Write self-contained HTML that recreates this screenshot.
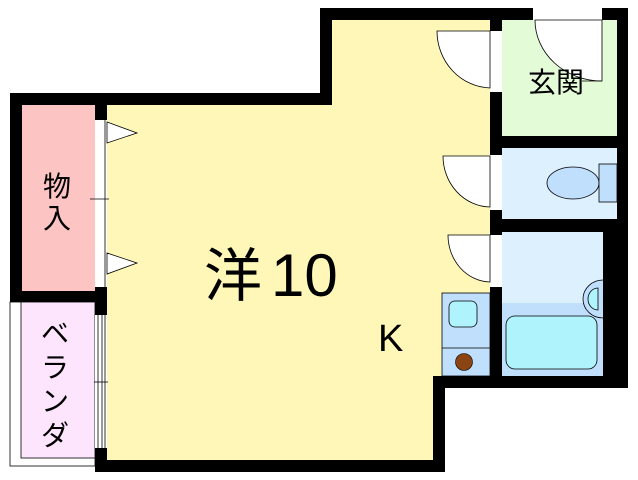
<!DOCTYPE html>
<html><head><meta charset="utf-8"><style>
html,body{margin:0;padding:0;background:#fff;width:638px;height:480px;overflow:hidden}
svg{display:block}
text{font-family:"Liberation Sans","Noto Sans CJK JP",sans-serif;fill:#000}
</style></head><body>
<svg width="638" height="480" viewBox="0 0 638 480" xmlns="http://www.w3.org/2000/svg">
<!-- black structure -->
<rect x="320" y="8" width="308" height="12" fill="#000"/>
<rect x="320" y="8" width="12" height="97" fill="#000"/>
<rect x="10" y="93" width="322" height="12" fill="#000"/>
<rect x="10" y="93" width="12" height="209" fill="#000"/>
<rect x="10" y="291" width="97" height="11" fill="#000"/>
<rect x="95" y="93" width="12" height="379" fill="#000"/>
<rect x="95" y="460" width="350" height="12" fill="#000"/>
<rect x="433" y="376" width="12" height="96" fill="#000"/>
<rect x="433" y="376" width="195" height="12" fill="#000"/>
<rect x="490" y="8" width="138" height="380" fill="#000"/>
<!-- main room -->
<polygon points="332,20 490,20 490,293 442,293 442,376 433,376 433,460 107,460 107,105 332,105" fill="#fef7b8"/>
<!-- genkan -->
<rect x="502" y="20" width="115" height="116" fill="#e3fbd6"/>
<!-- toilet -->
<rect x="502" y="148" width="115" height="71" fill="#dcf0fe"/>
<!-- bath -->
<rect x="502" y="232" width="101" height="71" fill="#dcf0fe"/>
<rect x="502" y="303" width="101" height="73" fill="#bfdffc"/>
<!-- closet -->
<rect x="22" y="105" width="73" height="186" fill="#fdc4c4"/>
<!-- veranda -->
<rect x="10" y="302" width="85" height="164" fill="#fff" stroke="#000" stroke-width="0.8"/>
<rect x="21" y="302" width="74" height="156" fill="#fde6fd" stroke="#000" stroke-width="0.8"/>
<rect x="95" y="315" width="12" height="133" fill="#fff"/>
<line x1="98" y1="315" x2="98" y2="448" stroke="#000" stroke-width="0.8"/>
<line x1="102" y1="315" x2="102" y2="448" stroke="#000" stroke-width="0.8"/>
<line x1="105" y1="315" x2="105" y2="448" stroke="#000" stroke-width="0.8"/>
<line x1="94" y1="382" x2="108" y2="382" stroke="#000" stroke-width="0.8"/>
<!-- closet sliding doors -->
<rect x="95" y="120" width="12" height="167" fill="#fff"/>
<line x1="105" y1="120" x2="105" y2="287" stroke="#000" stroke-width="0.8"/>
<line x1="90" y1="199" x2="109" y2="199" stroke="#000" stroke-width="0.8"/>
<polygon points="107,122 137,133 107,143" fill="#fff" stroke="#000" stroke-width="0.8"/>
<polygon points="107,253 137,263 107,274" fill="#fff" stroke="#000" stroke-width="0.8"/>
<!-- door openings -->
<rect x="490" y="31" width="12" height="61" fill="#fff"/>
<rect x="490" y="155" width="12" height="55" fill="#fff"/>
<rect x="490" y="235" width="12" height="52" fill="#fff"/>
<rect x="533" y="8" width="69" height="12" fill="#fff"/>
<g fill="#fff" stroke="#000" stroke-width="0.8">
<path d="M490,31 L437,31 A55,57 0 0 0 490,88 Z"/>
<path d="M490,156 L443,156 A48,51 0 0 0 490,207 Z"/>
<path d="M490,235 L448,235 A43,47 0 0 0 490,282 Z"/>
<path d="M535,20 L602,20 L602,81 A67,61 0 0 1 535,20 Z"/>
</g>
<line x1="582" y1="81" x2="602" y2="81" stroke="#000" stroke-width="0.8"/>
<!-- toilet fixture -->
<ellipse cx="573" cy="183" rx="26" ry="16" fill="#bfdffc" stroke="#000" stroke-width="0.8"/>
<rect x="599" y="164" width="18" height="38" fill="#bfdffc" stroke="#000" stroke-width="0.8"/>
<!-- bath fixtures -->
<rect x="506" y="316" width="91" height="53" rx="9" fill="#aff3fd" stroke="#000" stroke-width="0.8"/>
<path d="M603,280 A20,19 0 0 0 603,318" fill="#bfdffc" stroke="#000" stroke-width="0.8"/>
<path d="M598,288 L598,310 A10,11 0 0 1 598,288 Z" fill="#aff3fd" stroke="#000" stroke-width="0.8"/>
<!-- kitchen -->
<rect x="442" y="293" width="48" height="83" fill="#bfdffc" stroke="#000" stroke-width="0.8"/>
<line x1="442" y1="348" x2="490" y2="348" stroke="#000" stroke-width="0.8"/>
<rect x="449" y="301" width="28" height="26" rx="6" fill="#aff3fd" stroke="#000" stroke-width="0.8"/>
<circle cx="464" cy="362" r="8.5" fill="#8b4513" stroke="#000" stroke-width="0.6"/>
<!-- labels -->
<text x="204" y="296" font-size="58">洋</text>
<text x="271" y="296" font-size="60">10</text>
<text x="378" y="351" font-size="38">K</text>
<text x="528" y="92" font-size="28">玄関</text>
<text x="43" y="196" font-size="28">物</text>
<text x="43" y="228" font-size="28">入</text>
<text x="41" y="343" font-size="28">ベ</text>
<text x="41" y="377" font-size="28">ラ</text>
<text x="41" y="411" font-size="28">ン</text>
<text x="41" y="445" font-size="28">ダ</text>
</svg>
</body></html>
